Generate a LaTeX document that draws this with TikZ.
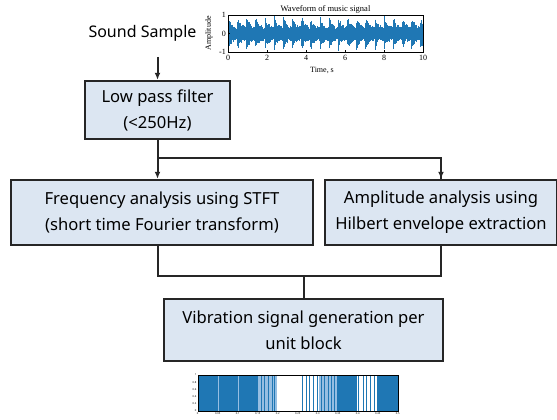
\documentclass[tikz,border=0pt]{standalone}
\usepackage{fontspec}
\setmainfont{Noto Sans}
\newfontfamily\plotfont{Liberation Serif}
\usetikzlibrary{arrows.meta}
\definecolor{boxfill}{RGB}{220,230,242}
\definecolor{sigblue}{RGB}{31,119,180}
\definecolor{barlight}{RGB}{150,190,226}
\tikzset{
  stage/.style={draw=black!85,line width=2.4pt,fill=boxfill,align=center,
    font=\fontsize{16.6}{26}\selectfont,inner sep=2pt},
  link/.style={line width=2pt,black!85},
  arr/.style={link,-{Latex[length=7pt,width=6pt]}},
  ticklab/.style={font=\plotfont\fontsize{8}{8}\selectfont,inner sep=1pt},
  tinylab/.style={font=\fontsize{2.6}{3}\selectfont,inner sep=0.5pt},
}
\begin{document}
\begin{tikzpicture}[x=1pt,y=-1pt]
\useasboundingbox (0,0) rectangle (557,420);

% input and filter
\node[font=\fontsize{16}{16}\selectfont] (sound) at (142.5,33) {Sound Sample};
\coordinate (src) at (157.5,57);
\node[stage,minimum width=145,minimum height=58] (lpf) at (157.5,110) {Low pass filter\\(<250Hz)};

% the two analysis branches
\node[stage,minimum width=302,minimum height=65] (stft) at (162,212.5) {Frequency analysis using STFT\\(short time Fourier transform)};
\node[stage,minimum width=232,minimum height=65] (hilb) at (441,212.5) {Amplitude analysis using\\Hilbert envelope extraction};
\node[stage,minimum width=279,minimum height=62] (vib) at (303.5,330) {Vibration signal generation per\\unit block};

\coordinate (split) at (157.5,158);
\coordinate (merge) at (303.5,275.5);

\draw[arr] (src) -- (lpf.north);
\draw[link] (lpf.south) -- (split) -| (hilb.north);
\draw[arr] (split) -- (split |- stft.north);
\draw[arr] (split -| hilb.north) -- (hilb.north);
\draw[link] (split |- stft.south) |- (merge) -| (hilb.south);
\draw[link] (merge) -- (vib.north);

% waveform of the input signal
\pgfmathsetseed{42}
\foreach \i in {0,...,389}{
  \pgfmathsetmacro\t{\i/39}
  \pgfmathsetmacro\ph{mod(\t,0.47)/0.47}
  \pgfmathsetmacro\env{0.36+0.6*exp(-3*\ph)}
  \pgfmathsetmacro\up{\env*(0.6+0.4*rnd)}
  \pgfmathsetmacro\dn{\env*(0.6+0.4*rnd)}
  \draw[sigblue,line width=0.6pt] (228+\i/2,33.5-18.5*\up) -- (228+\i/2,33.5+18.5*\dn);
}
\draw[line width=0.5pt] (228,15) rectangle (423,52);
\foreach \v/\y in {1/15,0/33.5,-1/52}{
  \draw[line width=0.4pt] (228,\y) -- ++(2,0);
  \node[ticklab,anchor=east] (yt\y) at (227,\y) {\v};
}
\foreach \v in {0,2,...,10}{
  \draw[line width=0.4pt] (228+19.5*\v,52) -- ++(0,-2);
  \node[ticklab,anchor=north] (xt\v) at (228+19.5*\v,54) {\v};
}
\node[ticklab,font=\plotfont\fontsize{8.5}{8.5}\selectfont,anchor=south] (wtitle) at (325.5,15) {Waveform of music signal};
\node[ticklab,rotate=90] (wylab) at (209,33.5) {Amplitude};
\node[ticklab] (wxlab) at (322,70) {Time, s};

% generated vibration blocks
\begin{scope}[shift={(197.7,375)},x=0.3333pt]
  \foreach \a/\b in {0/180,417/477,537/600}
    \fill[sigblue] (\a,0) rectangle (\b,36);
  \foreach \a/\b in {62/64,120/122,182/237,364/417}
    \fill[barlight] (\a,0) rectangle (\b,36);
  \foreach \s in {190,200,212,222,230,314,325,335,347,358,370,380,392,400,410,482,495,505,517,528}
    \fill[sigblue] (\s,0) rectangle (\s+1.6,36);
  \draw[line width=0.3pt] (0,0) rectangle (600,36);
  \foreach \v [count=\k from 0] in {1,0.8,0.6,0.4,0.2,0}
    \node[tinylab,anchor=east] (by\k) at (-2,7.2*\k) {\v};
  \foreach \v [count=\k from 0] in {0,0.05,0.1,0.15,0.2,0.25,0.3,0.35,0.4,0.45,0.5}
    \node[tinylab,anchor=north] (bx\k) at (60*\k,37) {\v};
\end{scope}
\end{tikzpicture}
\end{document}
